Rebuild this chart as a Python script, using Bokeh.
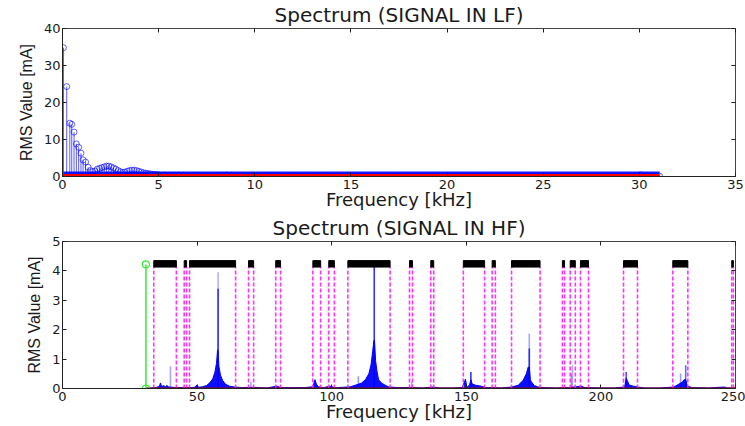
from bokeh.plotting import figure
from bokeh.layouts import column
from bokeh.models import LinearAxis, Range1d, FixedTicker, ColumnDataSource
from bokeh.embed import file_html
from bokeh.resources import INLINE

# ---------------- data: LF spectrum ----------------
lf_head_freq = [0.05, 0.22, 0.38, 0.48, 0.60, 0.72, 0.84, 0.96, 1.07, 1.20, 1.33, 1.45, 1.57, 1.69,
                1.81, 1.93, 2.05, 2.17, 2.29, 2.41, 2.53, 2.65, 2.77, 2.89, 3.01, 3.13, 3.25, 3.37,
                3.49, 3.61, 3.73, 3.85, 3.97, 4.09, 4.21, 4.33, 4.45, 4.57, 4.69, 4.81, 4.93]
lf_head_rms = [34.8, 24.3, 14.4, 14.1, 12.0, 8.8, 7.9, 6.3, 4.5, 3.9, 2.5, 1.6, 1.3, 1.5,
               2.0, 2.2, 2.4, 2.6, 2.8, 2.8, 2.6, 2.3, 2.0, 1.6, 1.3, 1.1, 1.2, 1.4,
               1.6, 1.7, 1.7, 1.6, 1.4, 1.2, 1.0, 0.9, 0.8, 0.7, 0.6, 0.55, 0.5]
lf_tail_start = 5.05
lf_tail_step = 0.25
lf_tail_rms = [0.4, 0.4, 0.35, 0.35, 0.4, 0.35, 0.3, 0.3,
               0.3, 0.25, 0.25, 0.3, 0.3, 0.3, 0.35, 0.35,
               0.3, 0.25, 0.2, 0.2, 0.2, 0.2, 0.15, 0.15,
               0.15, 0.15, 0.12, 0.15, 0.15, 0.12, 0.12, 0.15,
               0.12, 0.12, 0.15, 0.12, 0.1, 0.12, 0.12, 0.1,
               0.12, 0.1, 0.1, 0.12, 0.1, 0.1, 0.12, 0.1,
               0.12, 0.15, 0.12, 0.1, 0.1, 0.1, 0.12, 0.1,
               0.1, 0.1, 0.1, 0.1, 0.12, 0.1, 0.1, 0.1,
               0.1, 0.12, 0.15, 0.12, 0.1, 0.1, 0.1, 0.1,
               0.1, 0.1, 0.1, 0.1, 0.1, 0.1, 0.1, 0.1,
               0.1, 0.1, 0.1, 0.1, 0.1, 0.1, 0.1, 0.1,
               0.1, 0.1, 0.1, 0.1, 0.1, 0.1, 0.1, 0.1,
               0.1, 0.1, 0.12, 0.2, 0.45, 0.2, 0.12, 0.1,
               0.1]
lf_tail_freq = [round(lf_tail_start + lf_tail_step * i, 2) for i in range(len(lf_tail_rms))]

# ---------------- data: HF spectrum ----------------
hf_freq = [31.0, 33.0, 35.0, 36.0, 36.4, 36.8, 37.5, 38.2, 38.8, 39.5, 41.0, 43.0, 45.0, 47.0, 49.0,
           50.0, 50.5, 52.0, 53.5, 54.8, 55.8, 56.6, 57.2, 57.6, 57.8, 58.1, 58.7, 59.5, 60.5, 62.0,
           64.0, 67.0, 70.0, 73.0, 76.0, 79.6, 81.0, 85.0, 90.0, 93.0, 93.8, 94.3, 95.0, 97.0, 99.4,
           101.0, 104.0, 107.0, 109.0, 111.0, 112.5, 113.8, 114.6, 115.2, 115.7, 115.9, 116.3, 116.8,
           117.4, 118.6, 119.9, 121.0, 123.0, 126.0, 130.0, 134.0, 137.8, 140.0, 145.0, 148.5, 149.7,
           150.2, 151.2, 151.7, 152.2, 153.5, 155.6, 157.0, 160.0, 163.0, 166.8, 169.3, 171.1, 172.3,
           173.0, 173.4, 173.8, 174.2, 175.3, 176.6, 179.0, 183.0, 188.0, 192.7, 194.0, 200.0, 205.0,
           208.8, 209.4, 209.9, 210.5, 212.0, 213.7, 216.0, 222.0, 227.1, 229.0, 230.3, 230.9, 231.5,
           232.1, 234.0, 240.0, 245.8, 247.0, 250.0]
hf_rms = [0.0, 0.02, 0.04, 0.08, 0.19, 0.06, 0.1, 0.06, 0.1, 0.05, 0.04, 0.03, 0.04, 0.03, 0.04,
          0.12, 0.04, 0.06, 0.1, 0.2, 0.33, 0.55, 0.85, 1.3, 1.3, 0.75, 0.45, 0.27, 0.15, 0.08,
          0.05, 0.03, 0.04, 0.03, 0.02, 0.08, 0.03, 0.03, 0.03, 0.06, 0.3, 0.15, 0.06, 0.03, 0.08,
          0.03, 0.04, 0.06, 0.12, 0.18, 0.3, 0.5, 0.8, 1.25, 1.64, 1.64, 0.95, 0.6,
          0.3, 0.18, 0.11, 0.06, 0.04, 0.03, 0.03, 0.02, 0.05, 0.02, 0.02, 0.03, 0.32,
          0.04, 0.12, 0.3, 0.15, 0.11, 0.08, 0.03, 0.03, 0.02, 0.05, 0.11, 0.28, 0.5,
          0.73, 0.73, 0.3, 0.22, 0.1, 0.05, 0.03, 0.02, 0.03, 0.08, 0.03, 0.02, 0.02,
          0.05, 0.35, 0.25, 0.12, 0.08, 0.05, 0.02, 0.02, 0.05, 0.15, 0.22, 0.3, 0.3,
          0.08, 0.03, 0.02, 0.05, 0.02, 0.02]

spike_freq = [40.1, 57.8, 57.8, 70.0, 109.9, 115.8, 129.7, 151.7, 173.4, 173.4, 189.0, 189.4, 209.4, 229.6, 231.5]
spike_rms = [0.76, 3.95, 3.39, 0.22, 0.42, 4.15, 0.22, 0.56, 1.87, 1.36, 0.5, 0.79, 0.56, 0.51, 0.79]
spike_alpha = [0.35, 0.3, 0.75, 0.35, 0.4, 0.8, 0.35, 0.8, 0.35, 0.75, 0.35, 0.35, 0.7, 0.4, 0.6]

band_start = [33.9, 45.2, 47.2, 69.1, 79.2, 93.0, 98.9, 106.0, 128.9, 136.8, 148.9, 159.6, 166.8,
              185.7, 188.6, 192.4, 208.4, 226.7, 248.6]
band_end = [42.3, 46.1, 64.3, 71.0, 81.0, 95.9, 101.0, 121.7, 130.0, 137.9, 156.8, 160.8, 177.4,
            186.5, 190.5, 195.4, 213.6, 232.3, 249.2]
band_low = 4.13
band_high = 4.35

marker_freq = 31.0
marker_level = 4.22

lf_xticks = [0, 5, 10, 15, 20, 25, 30, 35]
lf_yticks = [0, 10, 20, 30, 40]
hf_xticks = [0, 50, 100, 150, 200, 250]
hf_yticks = [0, 1, 2, 3, 4, 5]

FONT = "DejaVu Sans"
TXT = "#1a1a1a"


def make_fig(height, xr, yr, xticks, yticks, title, mb_top, mb_bottom):
    p = figure(width=745, height=height, x_range=Range1d(*xr), y_range=Range1d(*yr),
               output_backend="svg", toolbar_location=None,
               min_border_left=62, min_border_right=10,
               min_border_top=mb_top, min_border_bottom=mb_bottom,
               x_axis_label="Frequency [kHz]", y_axis_label="RMS Value [mA]")
    p.title.text = title
    p.title.align = "center"
    p.title.vertical_align = "top"
    p.title.text_font = FONT
    p.title.text_font_size = "20px"
    p.title.text_font_style = "normal"
    p.title.text_color = TXT
    p.title.standoff = 0
    p.xgrid.visible = False
    p.ygrid.visible = False
    p.outline_line_color = "#444444"
    p.background_fill_color = "white"
    p.border_fill_color = "white"
    p.xaxis.ticker = FixedTicker(ticks=xticks)
    p.yaxis.ticker = FixedTicker(ticks=yticks)
    for ax in (p.xaxis[0], p.yaxis[0]):
        ax.major_tick_in = 4
        ax.major_tick_out = 0
        ax.minor_tick_line_color = None
        ax.axis_line_color = "#222222"
        ax.major_tick_line_color = "#222222"
        ax.major_label_text_font = FONT
        ax.major_label_text_font_size = "13px"
        ax.major_label_text_color = TXT
        ax.axis_label_text_font_style = "normal"
        ax.axis_label_text_color = TXT
    p.xaxis.major_label_standoff = 3
    p.xaxis.axis_label_standoff = -3
    p.xaxis.axis_label_text_font = FONT
    p.xaxis.axis_label_text_font_size = "18px"
    p.yaxis.major_label_standoff = 2
    p.yaxis.axis_label_standoff = 6
    p.yaxis.axis_label_text_font = "Liberation Sans"
    p.yaxis.axis_label_text_font_size = "16px"
    # box ticks on top and right (no labels)
    for loc, ticks in (("above", xticks), ("right", yticks)):
        ax = LinearAxis(ticker=FixedTicker(ticks=ticks))
        ax.major_tick_in = 4
        ax.major_tick_out = 0
        ax.minor_tick_line_color = None
        ax.major_label_overrides = {t: "" for t in ticks}
        ax.major_label_text_font_size = "1px"
        ax.major_label_standoff = 0
        ax.axis_line_color = None
        ax.major_tick_line_color = "#222222"
        p.add_layout(ax, loc)
    return p


# ---------------- top: LF ----------------
p1 = make_fig(214, (0, 35), (0, 40), lf_xticks, lf_yticks, "Spectrum (SIGNAL IN LF)", 28, 38)
lf_f = lf_head_freq + lf_tail_freq
lf_v = lf_head_rms + lf_tail_rms
p1.line(x=[lf_f[0], lf_f[-1]], y=[0, 0], line_color="#0000FF", line_width=10, line_alpha=0.9)
p1.segment(x0=lf_f, y0=[0] * len(lf_f), x1=lf_f, y1=lf_v, line_color="#0000FF",
           line_alpha=0.65, line_width=1)
p1.scatter(x=lf_f, y=lf_v, marker="circle", size=6, fill_color=None,
           line_color="#0000FF", line_alpha=0.6, line_width=1)
p1.line(x=[lf_f[0], lf_f[-1]], y=[0, 0], line_color="#FF0000", line_width=5)

# ---------------- bottom: HF ----------------
p2 = make_fig(212, (0, 250), (0, 5), hf_xticks, hf_yticks, "Spectrum (SIGNAL IN HF)", 27, 38)
p2.varea(x=hf_freq, y1=[0] * len(hf_freq), y2=hf_rms, fill_color="#0000FF", fill_alpha=0.95)
p2.line(x=hf_freq, y=hf_rms, line_color="#0000FF", line_width=1)
spk = ColumnDataSource(dict(x=spike_freq, y0=[0] * len(spike_freq), y1=spike_rms, a=spike_alpha))
p2.segment(x0="x", y0="y0", x1="x", y1="y1", source=spk, line_color="#0000FF",
           line_alpha="a", line_width=1.6)
edges = band_start + band_end
p2.segment(x0=edges, y0=[0] * len(edges), x1=edges, y1=[band_low] * len(edges),
           line_color="#FF33FF", line_width=1.6, line_dash="4 2")
p2.quad(left=band_start, right=band_end, bottom=[band_low] * len(band_start),
        top=[band_high] * len(band_start), fill_color="black", line_color="black")
p2.line(x=[hf_freq[0], hf_freq[-1]], y=[0, 0], line_color="#A00000", line_width=2)
p2.segment(x0=[marker_freq], y0=[0], x1=[marker_freq], y1=[marker_level],
           line_color="#33EE33", line_width=1.5)
p2.scatter(x=[marker_freq, marker_freq], y=[0, marker_level], marker="circle", size=7,
           fill_color=None, line_color="#33EE33", line_width=1.2)

layout = column(p1, p2, spacing=0)
open("out.html", "w").write(file_html(layout, INLINE))
